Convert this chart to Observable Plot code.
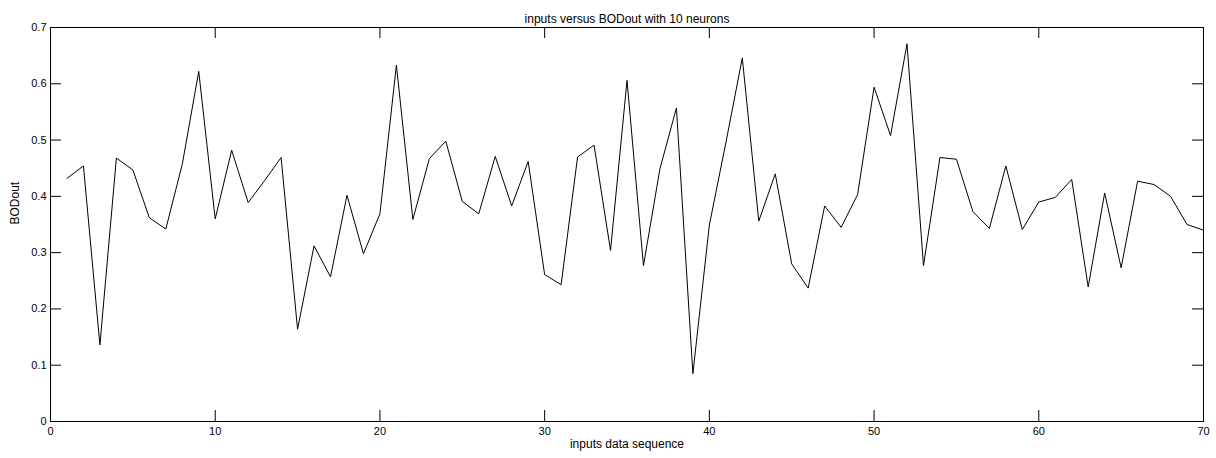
<!DOCTYPE html>
<html>
<head>
<meta charset="utf-8">
<script src="https://cdn.jsdelivr.net/npm/d3@7"></script>
<script src="https://cdn.jsdelivr.net/npm/@observablehq/plot@0.6"></script>
<style>
  html, body { margin: 0; padding: 0; background: #fff; }
</style>
</head>
<body>
<div id="chart"></div>
<script>
// Input sequence index and the network output (BODout) at each step
const sequence = [
  1, 2, 3, 4, 5, 6, 7, 8, 9, 10,
  11, 12, 13, 14, 15, 16, 17, 18, 19, 20,
  21, 22, 23, 24, 25, 26, 27, 28, 29, 30,
  31, 32, 33, 34, 35, 36, 37, 38, 39, 40,
  41, 42, 43, 44, 45, 46, 47, 48, 49, 50,
  51, 52, 53, 54, 55, 56, 57, 58, 59, 60,
  61, 62, 63, 64, 65, 66, 67, 68, 69, 70
];
const bodOut = [
  0.432, 0.454, 0.136, 0.468, 0.447, 0.362, 0.342, 0.457, 0.622, 0.360,
  0.482, 0.389, 0.428, 0.469, 0.164, 0.312, 0.257, 0.402, 0.298, 0.369,
  0.633, 0.359, 0.467, 0.498, 0.391, 0.369, 0.471, 0.383, 0.462, 0.261,
  0.243, 0.470, 0.491, 0.304, 0.606, 0.277, 0.449, 0.557, 0.085, 0.349,
  0.495, 0.646, 0.356, 0.440, 0.280, 0.237, 0.383, 0.345, 0.403, 0.594,
  0.508, 0.671, 0.277, 0.469, 0.466, 0.373, 0.343, 0.454, 0.341, 0.390,
  0.398, 0.430, 0.239, 0.406, 0.273, 0.427, 0.421, 0.400, 0.350, 0.340
];

const xTicks = [0, 10, 20, 30, 40, 50, 60, 70];
const yTicks = [0, 0.1, 0.2, 0.3, 0.4, 0.5, 0.6, 0.7];
const yTickLabels = ["0", "0.1", "0.2", "0.3", "0.4", "0.5", "0.6", "0.7"];

const titleText = "inputs versus BODout with 10 neurons";
const xLabelText = "inputs data sequence";
const yLabelText = "BODout";

const points = sequence.map((s, i) => ({seq: s, value: bodOut[i]}));

const W = 1216, H = 458;
const M = {top: 27, right: 13, bottom: 37, left: 50};
const innerW = W - M.left - M.right;
const innerH = H - M.top - M.bottom;
const tickLen = 11;

const chart = Plot.plot({
  width: W,
  height: H,
  marginTop: M.top,
  marginRight: M.right,
  marginBottom: M.bottom,
  marginLeft: M.left,
  style: {
    fontFamily: "'Liberation Sans', Arial, sans-serif",
    fontSize: "11px",
    background: "#fff",
    color: "#000",
    overflow: "visible"
  },
  x: {domain: [0, 70]},
  y: {domain: [0, 0.7]},
  marks: [
    // box around the axes
    Plot.frame({stroke: "#000", strokeWidth: 1}),
    // tick labels
    Plot.axisX(xTicks, {tickSize: 0, tickPadding: 6, label: null, tickFormat: d => String(d)}),
    Plot.axisY(yTicks, {tickSize: 0, tickPadding: 4, label: null,
      tickFormat: d => yTickLabels[yTicks.indexOf(d)]}),
    // inward ticks on all four sides
    Plot.tickX(xTicks, {x: d => d, insetTop: innerH - tickLen, stroke: "#000"}),
    Plot.tickX(xTicks, {x: d => d, insetBottom: innerH - tickLen, stroke: "#000"}),
    Plot.tickY(yTicks, {y: d => d, insetRight: innerW - tickLen, stroke: "#000"}),
    Plot.tickY(yTicks, {y: d => d, insetLeft: innerW - tickLen, stroke: "#000"}),
    // the output series
    Plot.line(points, {x: "seq", y: "value", stroke: "#000", strokeWidth: 1}),
    // title and axis labels
    Plot.text([titleText], {frameAnchor: "top", dy: -13, fill: "#000", fontSize: 12}),
    Plot.text([xLabelText], {frameAnchor: "bottom", dy: 26, fill: "#000", fontSize: 12}),
    Plot.text([yLabelText], {frameAnchor: "left", dx: -35, rotate: -90, fill: "#000", fontSize: 12})
  ]
});

document.getElementById("chart").appendChild(chart);
</script>
</body>
</html>
